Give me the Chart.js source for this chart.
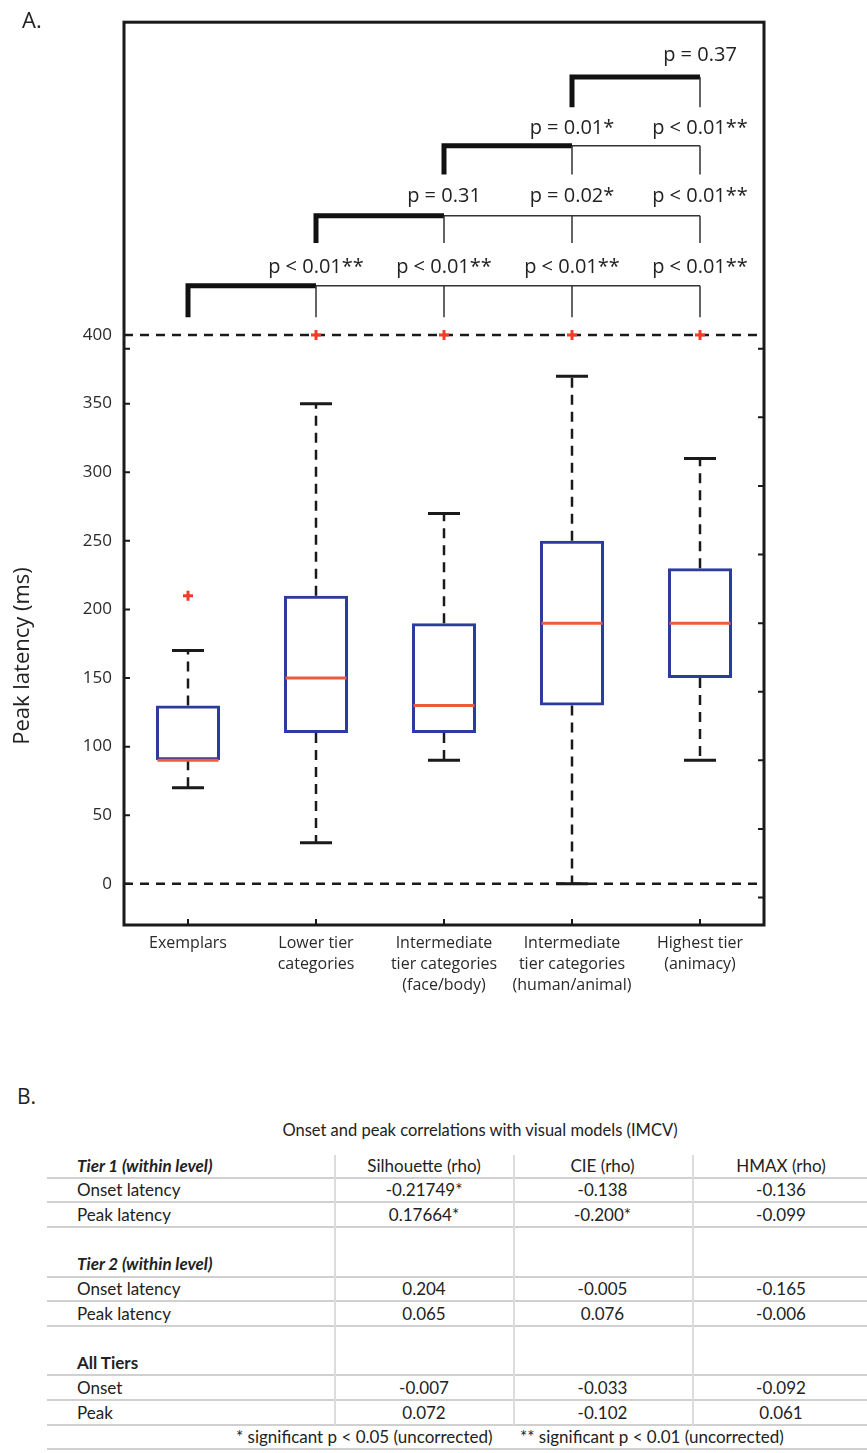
<!DOCTYPE html>
<html>
<head>
<meta charset="utf-8">
<script src="https://cdn.jsdelivr.net/npm/chart.js@4/dist/chart.umd.min.js"></script>
<style>
html,body{margin:0;padding:0;background:#fff;}
body{width:867px;height:1453px;position:relative;overflow:hidden;color:#222;}
#wrap{position:absolute;left:0;top:0;width:867px;height:1010px;}
.pl{position:absolute;font-family:'Open Sans',sans-serif;line-height:1;color:#222;}
#labA{left:22px;top:8px;font-size:22px;}
#labB{left:17px;top:1086px;font-size:21px;}
#ttl{position:absolute;left:93px;width:774px;top:1119px;text-align:center;font-family:Lato,sans-serif;font-size:16.5px;line-height:22px;color:#222;}
.tc{position:absolute;font-family:Lato,sans-serif;font-size:17px;color:#222;white-space:nowrap;}
.hl{position:absolute;left:47px;width:830px;height:2px;background:#d0d0d0;}
.vl{position:absolute;width:1.5px;background:#dcdcdc;}
</style>
</head>
<body>
<div id="wrap"><canvas id="c" width="867" height="1010"></canvas></div>
<div class="pl" id="labA">A.</div>
<div class="pl" id="labB">B.</div>
<div id="ttl">Onset and peak correlations with visual models (IMCV)</div>
<div id="tbl"></div>
<script>
// ---------- Panel A data ----------
const categories = [
  ["Exemplars"],
  ["Lower tier", "categories"],
  ["Intermediate", "tier categories", "(face/body)"],
  ["Intermediate", "tier categories", "(human/animal)"],
  ["Highest tier", "(animacy)"]
];
const whiskerLow  = [70, 30, 90, 0, 90];
const q1          = [90, 110, 110, 130, 150];
const median      = [90, 150, 130, 190, 190];
const q3          = [130, 210, 190, 250, 230];
const whiskerHigh = [170, 350, 270, 370, 310];
const outlierValues = [210, 400, 400, 400, 400];
const yTickValues = [0, 50, 100, 150, 200, 250, 300, 350, 400];
const yExtraTickValues = [390];
const rightTickValues = [-10, 40, 90, 140, 190, 240, 290, 340, 390];
const refLineValues = [0, 400];
const pLabels = [
  ["p < 0.01**", "p < 0.01**", "p < 0.01**", "p < 0.01**"],
  ["p = 0.31", "p = 0.02*", "p < 0.01**"],
  ["p = 0.01*", "p < 0.01**"],
  ["p = 0.37"]
];

// ---------- Panel B data ----------
const modelColumns = ["Silhouette  (rho)", "CIE (rho)", "HMAX (rho)"];
const rowLabels = ["Tier 1 (within level)", "Onset latency", "Peak latency", "", "Tier 2 (within level)", "Onset latency", "Peak latency", "", "All Tiers", "Onset", "Peak"];
const tier1Onset = ["-0.21749*", "-0.138", "-0.136"];
const tier1Peak  = ["0.17664*", "-0.200*", "-0.099"];
const tier2Onset = ["0.204", "-0.005", "-0.165"];
const tier2Peak  = ["0.065", "0.076", "-0.006"];
const allOnset   = ["-0.007", "-0.033", "-0.092"];
const allPeak    = ["0.072", "-0.102", "0.061"];
const footnotes  = ["* significant p < 0.05 (uncorrected)", "** significant p < 0.01  (uncorrected)"];

// ---------- Table B ----------
(function buildTable(){
  const tbl = document.getElementById('tbl');
  const top0 = 1153.5, rh = 24.7;
  const colCenters = [424, 602.5, 781];
  const rowValues = [modelColumns, tier1Onset, tier1Peak, null, null, tier2Onset, tier2Peak, null, null, allOnset, allPeak];
  const rowStyle = ['bi','','','','bi','','','','b','',''];
  const hasLine = [true,true,true,false,true,true,true,false,true,true,true];
  function add(cls, css, text){ const d=document.createElement('div'); d.className=cls; Object.assign(d.style, css); if(text!==undefined) d.textContent=text; tbl.appendChild(d); return d; }
  for (let i=0;i<rowLabels.length;i++){
    const t = top0 + i*rh;
    if (rowLabels[i]) {
      const st = {left:'77px', top:t+'px', height:rh+'px', lineHeight:rh+'px'};
      if (rowStyle[i].includes('b')) st.fontWeight='700';
      if (rowStyle[i].includes('i')) st.fontStyle='italic';
      add('tc', st, rowLabels[i]);
    }
    if (rowValues[i]) rowValues[i].forEach((v,j)=>{
      add('tc', {left:(colCenters[j]-89)+'px', width:'178px', textAlign:'center', top:t+'px', height:rh+'px', lineHeight:rh+'px'}, v);
    });
    if (hasLine[i]) add('hl', {top:(t+rh-1.5)+'px'});
  }
  const ft = top0 + rowLabels.length*rh;
  add('tc', {left:'236px', top:ft+'px', height:rh+'px', lineHeight:rh+'px'}, footnotes[0]);
  add('tc', {left:'520px', top:ft+'px', height:rh+'px', lineHeight:rh+'px'}, footnotes[1]);
  add('hl', {top:(ft+rh-1.5)+'px'});
  [334, 513, 692].forEach(x=>add('vl', {left:x+'px', top:'1155px', height:(ft-1155)+'px'}));
})();

// ---------- Chart ----------
const bracketLayout = { base:[413, 467, 517, 566], top:[436, 487, 538, 588], label:[449, 501, 551, 604] };

const boxPlugin = {
  id: 'boxExtras',
  beforeDatasetsDraw(chart){
    const {ctx, chartArea:a, scales:{y}} = chart;
    ctx.save();
    ctx.strokeStyle = '#1a1a1a'; ctx.lineWidth = 2.5; ctx.setLineDash([9,7]);
    refLineValues.forEach(v=>{
      const py = y.getPixelForValue(v);
      ctx.beginPath(); ctx.moveTo(a.left, py); ctx.lineTo(a.right, py); ctx.stroke();
    });
    ctx.restore();
  },
  afterDatasetsDraw(chart){
    const {ctx, scales:{y}} = chart;
    const meta = chart.getDatasetMeta(0);
    ctx.save();
    meta.data.forEach((bar,i)=>{
      const x = bar.x, w = bar.width;
      ctx.strokeStyle = '#1a1a1a'; ctx.lineWidth = 2.5; ctx.setLineDash([10,7]);
      ctx.beginPath();
      ctx.moveTo(x, y.getPixelForValue(q3[i])); ctx.lineTo(x, y.getPixelForValue(whiskerHigh[i]));
      ctx.moveTo(x, y.getPixelForValue(q1[i])); ctx.lineTo(x, y.getPixelForValue(whiskerLow[i]));
      ctx.stroke();
      ctx.setLineDash([]); ctx.lineWidth = 3;
      ctx.beginPath();
      [whiskerHigh[i], whiskerLow[i]].forEach(v=>{
        const py = y.getPixelForValue(v);
        ctx.moveTo(x - w/4, py); ctx.lineTo(x + w/4, py);
      });
      ctx.stroke();
      ctx.strokeStyle = '#f05a3c'; ctx.lineWidth = 3;
      const pm = y.getPixelForValue(median[i]);
      ctx.beginPath(); ctx.moveTo(x - w/2 + 1.5, pm); ctx.lineTo(x + w/2 - 1.5, pm); ctx.stroke();
    });
    ctx.restore();
  },
  afterDraw(chart){
    const {ctx, chartArea:a, scales:{x, y}} = chart;
    ctx.save();
    ctx.strokeStyle = '#1a1a1a'; ctx.lineWidth = 3;
    ctx.strokeRect(a.left, a.top, a.right - a.left, a.bottom - a.top);
    ctx.lineWidth = 2;
    ctx.beginPath();
    yTickValues.concat(yExtraTickValues).forEach(v=>{
      const py = y.getPixelForValue(v); ctx.moveTo(a.left, py); ctx.lineTo(a.left + 6, py);
    });
    rightTickValues.forEach(v=>{
      const py = y.getPixelForValue(v); ctx.moveTo(a.right, py); ctx.lineTo(a.right - 6, py);
    });
    categories.forEach((c,i)=>{
      const px = x.getPixelForValue(i); ctx.moveTo(px, a.bottom); ctx.lineTo(px, a.bottom - 6);
    });
    ctx.stroke();
    const xs = categories.map((c,i)=>x.getPixelForValue(i));
    const last = xs.length - 1;
    ctx.lineCap = 'butt'; ctx.lineJoin = 'miter';
    ctx.font = '20px "Open Sans"'; ctx.textAlign = 'center'; ctx.textBaseline = 'middle'; ctx.fillStyle = '#222';
    pLabels.forEach((labels,k)=>{
      const pb = y.getPixelForValue(bracketLayout.base[k]);
      const pt = y.getPixelForValue(bracketLayout.top[k]);
      ctx.strokeStyle = '#111'; ctx.lineWidth = 5;
      ctx.beginPath(); ctx.moveTo(xs[k], pb); ctx.lineTo(xs[k], pt); ctx.lineTo(xs[k+1], pt); ctx.stroke();
      ctx.strokeStyle = '#333'; ctx.lineWidth = 1.5;
      ctx.beginPath();
      if (k + 1 < last) { ctx.moveTo(xs[k+1], pt); ctx.lineTo(xs[last], pt); }
      for (let j=k+1;j<=last;j++){ ctx.moveTo(xs[j], pt); ctx.lineTo(xs[j], pb); }
      ctx.stroke();
      const pl = y.getPixelForValue(bracketLayout.label[k]);
      labels.forEach((t,j)=>ctx.fillText(t, xs[k+1+j], pl));
    });
    ctx.translate(23, 656); ctx.rotate(-Math.PI/2);
    ctx.font = '22px "Open Sans"'; ctx.fillStyle = '#222';
    ctx.fillText('Peak latency (ms)', 0, 0);
    ctx.restore();
  }
};

function draw(){
  new Chart(document.getElementById('c'), {
    type: 'bar',
    data: {
      labels: categories,
      datasets: [
        { type:'bar', data: q1.map((v,i)=>[v, q3[i]]), borderColor:'#2b3b9e', backgroundColor:'rgba(0,0,0,0)',
          borderWidth:3, borderSkipped:false, barPercentage:0.5, categoryPercentage:1, order:2 },
        { type:'line', data: outlierValues, showLine:false, pointStyle:'cross', pointRadius:5, pointHoverRadius:5,
          pointBorderWidth:3, pointBorderColor:'#f03c28', pointBackgroundColor:'#f03c28', order:1 }
      ]
    },
    options: {
      responsive:false, animation:false, devicePixelRatio:1,
      layout:{ padding:{ top:12, right:103, left:0, bottom:0 } },
      plugins:{ legend:{display:false}, tooltip:{enabled:false} },
      scales:{
        x:{ type:'category', offset:true, grid:{display:false, drawTicks:false}, border:{display:false},
            ticks:{ padding:8, color:'#2a2a2a', maxRotation:0, autoSkip:false, font:{family:'Open Sans', size:16, lineHeight:1.3} },
            afterFit(s){ s.height = 85; } },
        y:{ min:-30, max:628, grid:{display:false, drawTicks:false}, border:{display:false},
            afterBuildTicks(s){ s.ticks = yTickValues.map(v=>({value:v})); },
            ticks:{ padding:12, color:'#2a2a2a', font:{family:'Open Sans', size:17} },
            afterFit(s){ s.width = 124; } }
      }
    },
    plugins:[boxPlugin]
  });
}
if (document.fonts && document.fonts.load) {
  Promise.all([document.fonts.load('17px "Open Sans"'), document.fonts.load('16px Lato')]).then(draw, draw);
} else draw();
</script>
</body>
</html>
